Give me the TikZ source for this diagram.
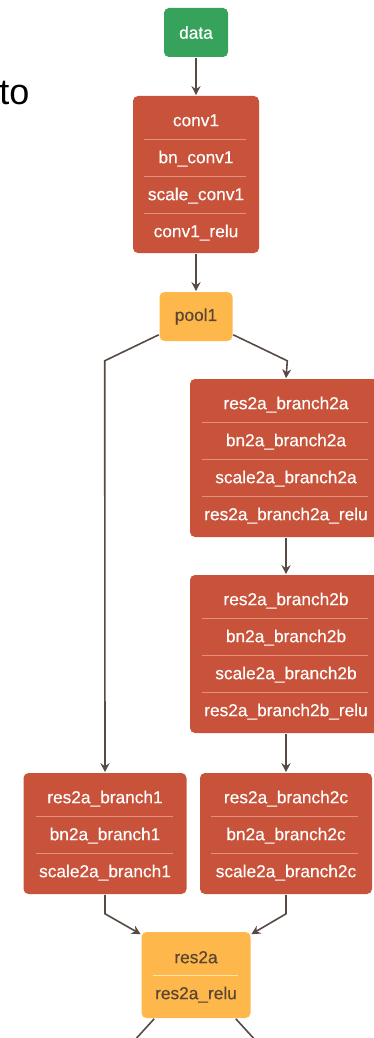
\documentclass[tikz,border=0pt]{standalone}
\usepackage{fontspec}
\setmainfont{Liberation Sans}
\newfontfamily\boxfont[FakeBold=0.4]{Liberation Sans}
\usepackage{tikz}
\usetikzlibrary{arrows.meta}

\definecolor{datagreen}{HTML}{36A25B}
\definecolor{layerred}{HTML}{C9533A}
\definecolor{poolyellow}{HTML}{FDB74B}
\definecolor{edgebrown}{HTML}{574A44}
\definecolor{textbrown}{HTML}{5A4434}
\definecolor{splitred}{HTML}{E3907B}
\definecolor{splityellow}{HTML}{FFE2AE}

\begin{document}
\begin{tikzpicture}[x=1pt,y=-1pt,->,>={Stealth[length=9pt,width=9pt,inset=3pt]},
                    line width=1.6pt,draw=edgebrown]
\tikzstyle{box}=[rectangle,rounded corners=5pt,draw=none,inner sep=0pt,
                 font=\boxfont\fontsize{17.3}{19}\selectfont]
\tikzstyle{green box}=[box,fill=datagreen,text=white]
\tikzstyle{red box}=[box,fill=layerred]
\tikzstyle{yellow box}=[box,fill=poolyellow,text=textbrown]
\tikzstyle{lbl}=[anchor=base,inner sep=0pt,font=\boxfont\fontsize{17.3}{19}\selectfont]
\tikzstyle{white lbl}=[lbl,text=white]
\tikzstyle{brown lbl}=[lbl,text=textbrown]
\tikzstyle{red split}=[-,draw=splitred,line width=0.8pt]
\tikzstyle{yellow split}=[-,draw=splityellow,line width=0.8pt]

\useasboundingbox (0,0) rectangle (374,1038);

% slide text cut at the left
\node[anchor=base west,inner sep=0pt,text=black,
      font=\fontsize{36}{40}\selectfont] (to) at (-1.5,105) {to};

\path
node[green box,minimum width=64,minimum height=49] (data) at (196,32.5) {data}
node[red box,minimum width=126,minimum height=157] (conv) at (196,174.5) {}
(conv.north) ++(0,31) node[white lbl] (conva) {conv1}
(conv.north) ++(0,68) node[white lbl] (convb) {bn\_conv1}
(conv.north) ++(0,105) node[white lbl] (convc) {scale\_conv1}
(conv.north) ++(0,142) node[white lbl] (convd) {conv1\_relu}
node[yellow box,minimum width=73,minimum height=49] (pool) at (196,316.5) {pool1}
% right branch
node[red box,minimum width=192,minimum height=158] (bra) at (286,458) {}
(bra.north) ++(0,31) node[white lbl] (braa) {res2a\_branch2a}
(bra.north) ++(0,68) node[white lbl] (brab) {bn2a\_branch2a}
(bra.north) ++(0,105) node[white lbl] (brac) {scale2a\_branch2a}
(bra.north) ++(0,142) node[white lbl] (brad) {res2a\_branch2a\_relu}
node[red box,minimum width=192,minimum height=158] (brb) at (286,654) {}
(brb.north) ++(0,31) node[white lbl] (brba) {res2a\_branch2b}
(brb.north) ++(0,68) node[white lbl] (brbb) {bn2a\_branch2b}
(brb.north) ++(0,105) node[white lbl] (brbc) {scale2a\_branch2b}
(brb.north) ++(0,142) node[white lbl] (brbd) {res2a\_branch2b\_relu}
node[red box,minimum width=172,minimum height=121] (brc) at (286,833.5) {}
(brc.north) ++(0,31) node[white lbl] (brca) {res2a\_branch2c}
(brc.north) ++(0,68) node[white lbl] (brcb) {bn2a\_branch2c}
(brc.north) ++(0,105) node[white lbl] (brcc) {scale2a\_branch2c}
% left branch
node[red box,minimum width=163,minimum height=121] (bro) at (105,833.5) {}
(bro.north) ++(0,31) node[white lbl] (broa) {res2a\_branch1}
(bro.north) ++(0,68) node[white lbl] (brob) {bn2a\_branch1}
(bro.north) ++(0,105) node[white lbl] (broc) {scale2a\_branch1}
% sum
node[yellow box,minimum width=109,minimum height=86] (res) at (196,975) {}
(res.north) ++(0,32) node[brown lbl] (resa) {res2a}
(res.north) ++(0,68) node[brown lbl] (resb) {res2a\_relu};

\foreach \k in {44,81,118} {
  \draw[red split] (conv.north west) ++(12,\k) -- ++(102,0);
  \draw[red split] (bra.north west) ++(13,\k) -- ++(166,0);
  \draw[red split] (brb.north west) ++(13,\k) -- ++(166,0);
}
\foreach \k in {44,81} {
  \draw[red split] (brc.north west) ++(12,\k) -- ++(147,0);
  \draw[red split] (bro.north west) ++(13,\k) -- ++(137,0);
}
\draw[yellow split] (res.north west) ++(12,44) -- ++(85,0);

\coordinate (outl) at (133,1042);
\coordinate (outr) at (257,1042);

\draw (data) -- (conv);
\draw (conv) -- (pool);
\draw (pool.south west) ++(0,-7) -- ++(-54,26) -- (bro.north);
\draw (pool.south east) ++(0,-7) -- ++(54,26) -- (bra.north);
\draw (bra) -- (brb);
\draw (brb) -- (brc);
\draw (bro.south) -- ++(0,19) -- ([yshift=-3pt]res.north west);
\draw (brc.south) -- ++(0,19) -- ([yshift=-3pt]res.north east);
\draw[-] (res.south west) ++(13.5,0) -- (outl);
\draw[-] (res.south east) ++(-15.5,0) -- (outr);
\end{tikzpicture}
\end{document}
